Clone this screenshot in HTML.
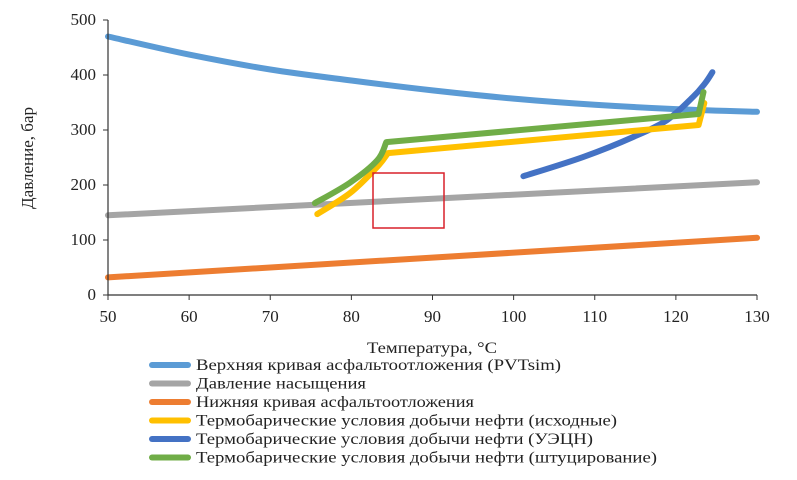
<!DOCTYPE html>
<html><head><meta charset="utf-8"><style>
body{margin:0;background:#fff}
svg text{font-family:"Liberation Serif",serif;fill:#222}
</style></head><body>
<svg width="797" height="475">
<g id="plot"></g>
<rect x="373" y="173" width="71" height="55" fill="none" stroke="#d9202a" stroke-width="1.5"/>
<g id="axes"></g>
<g id="legend"></g>
</svg>
<script>
const xTicks=[50,60,70,80,90,100,110,120,130];
const yTicks=[0,100,200,300,400,500];
const upperT=[50,60,70,80,90,100,110,120,130];
const upperP=[470,437,410,390,372,357,346,338,333];
const satT=[50,130];const satP=[145,205];
const lowerT=[50,130];const lowerP=[32,104];
const baseT=[75.8,79.8,83.2,84.5,122.8,123.5];
const baseP=[147,185,233,258,309,349];
const espT=[101.2,108.6,114.7,118.9,122.1,123.6,124.5];
const espP=[216,251,287,318,360,385,405];
const chokeT=[75.5,79.8,83.2,84.3,122.8,123.4];
const chokeP=[167,204,245,278,329,369];
const names=["Верхняя кривая асфальтоотложения (PVTsim)","Давление насыщения","Нижняя кривая асфальтоотложения","Термобарические условия добычи нефти (исходные)","Термобарические условия добычи нефти (УЭЦН)","Термобарические условия добычи нефти (штуцирование)"];
const legendLen=[365,170,278,421,397,461];
const NS="http://www.w3.org/2000/svg";
const X=t=>108+(t-50)*(757-108)/80, Y=p=>295-p*0.55;
function mk(tag,attrs,parent){const e=document.createElementNS(NS,tag);for(const k in attrs)e.setAttribute(k,attrs[k]);parent.appendChild(e);return e;}
function pathD(ts,ps,smoothUpTo){
 const pts=ts.map((t,i)=>[X(t),Y(ps[i])]);
 let d='M'+pts[0][0].toFixed(1)+','+pts[0][1].toFixed(1);
 for(let i=1;i<pts.length;i++){
  if(i<=smoothUpTo){
   const p0=pts[Math.max(i-2,0)],p1=pts[i-1],p2=pts[i],p3=pts[Math.min(i+1,smoothUpTo)];
   const c1=[p1[0]+(p2[0]-p0[0])/6,p1[1]+(p2[1]-p0[1])/6],c2=[p2[0]-(p3[0]-p1[0])/6,p2[1]-(p3[1]-p1[1])/6];
   d+=`C${c1[0].toFixed(1)},${c1[1].toFixed(1)} ${c2[0].toFixed(1)},${c2[1].toFixed(1)} ${p2[0].toFixed(1)},${p2[1].toFixed(1)}`;
  } else d+='L'+pts[i][0].toFixed(1)+','+pts[i][1].toFixed(1);
 }
 return d;
}
const plot=document.getElementById('plot'),axes=document.getElementById('axes'),leg=document.getElementById('legend');
const series=[[satT,satP,'#a5a5a5','saturation-pressure-line',0],[lowerT,lowerP,'#ed7d31','lower-asphaltene-curve',0],[upperT,upperP,'#5b9bd5','upper-asphaltene-curve',upperT.length-1],[espT,espP,'#4472c4','esp-conditions-line',espT.length-1],[baseT,baseP,'#ffc000','initial-conditions-line',3],[chokeT,chokeP,'#70ad47','choke-conditions-line',3]];
series.forEach(s=>{
 const p=mk('path',{d:pathD(s[0],s[1],s[4]),fill:'none',stroke:s[2],'stroke-width':6,'stroke-linecap':'round','stroke-linejoin':'round'},plot);
 
 
});
const ax=mk('path',{d:`M108,${Y(500)}V295H757`,stroke:'#333',fill:'none','stroke-width':1.2},axes);


xTicks.forEach(t=>{mk('line',{x1:X(t),x2:X(t),y1:295,y2:300,stroke:'#333'},axes);
 const tx=mk('text',{x:X(t),y:322,'text-anchor':'middle','font-size':17},axes);tx.textContent=t;
 
 });
yTicks.forEach(p=>{mk('line',{x1:103,x2:108,y1:Y(p),y2:Y(p),stroke:'#333'},axes);
 const tx=mk('text',{x:96,y:Y(p)+5,'text-anchor':'end','font-size':17},axes);tx.textContent=p;
 
 });
const xt=mk('text',{x:367,y:353,'font-size':16,textLength:130,lengthAdjust:'spacingAndGlyphs'},axes);xt.textContent='Температура, °C';


const yt=mk('text',{x:0,y:0,'text-anchor':'middle','font-size':17,transform:'translate(33,158) rotate(-90)'},axes);yt.textContent='Давление, бар';


const lc=['#5b9bd5','#a5a5a5','#ed7d31','#ffc000','#4472c4','#70ad47'];
names.forEach((n,i)=>{const y=365+i*18.5;
 const g=mk('g',{},leg);
 
 
 mk('line',{x1:152,x2:188,y1:y,y2:y,stroke:lc[i],'stroke-width':6,'stroke-linecap':'round'},g);
 const t=mk('text',{x:196,y:y+5,'font-size':16,textLength:legendLen[i],lengthAdjust:'spacingAndGlyphs'},g);t.textContent=n;});
</script>
</body></html>
